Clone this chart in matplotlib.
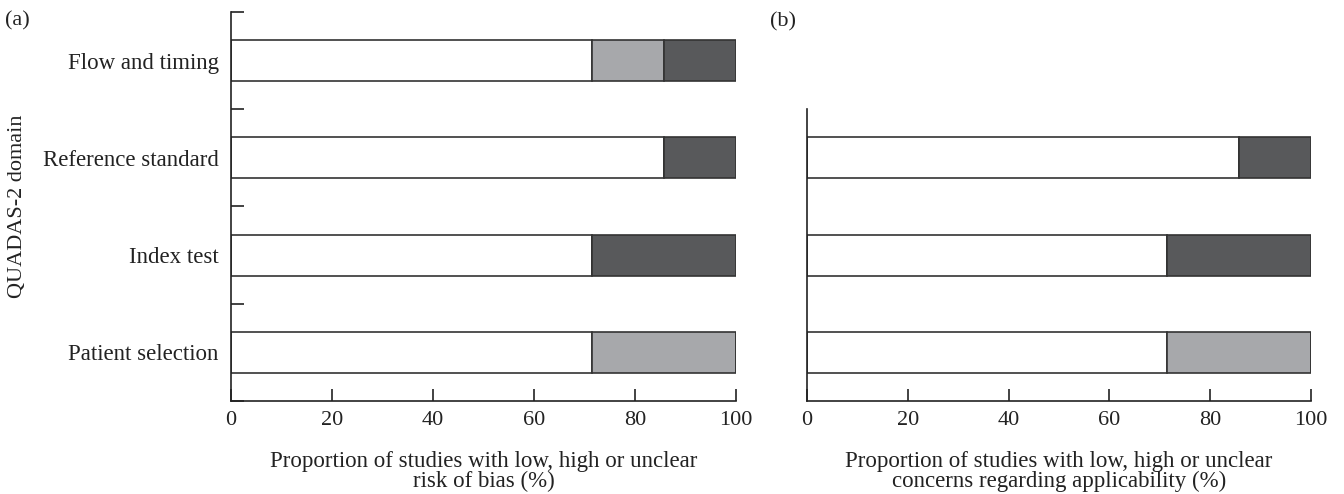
import matplotlib
matplotlib.use('Agg')
import matplotlib.pyplot as plt
import numpy as np

plt.rcParams['font.family'] = ['Liberation Serif', 'DejaVu Serif']

# QUADAS-2 domains, bottom to top
domains = ['Patient selection', 'Index test', 'Reference standard', 'Flow and timing']

# risk of bias (%)
bias_low = [71.4, 71.4, 85.7, 71.4]
bias_high = [0.0, 28.6, 14.3, 14.3]
bias_unclear = [28.6, 0.0, 0.0, 14.3]

# applicability concerns (%) - first three domains only
app_domains = domains[:3]
app_low = [71.4, 71.4, 85.7]
app_high = [0.0, 28.6, 14.3]
app_unclear = [28.6, 0.0, 0.0]

col_low = 'white'
col_unclear = '#a7a8ab'
col_high = '#58595b'
edge = '#333333'
txt = '#222222'
bar_h = 0.42


def stacked(ax, n, low, unclear, high):
    y = np.arange(n)
    low = np.array(low)
    unclear = np.array(unclear)
    high = np.array(high)
    ax.barh(y, low, height=bar_h, color=col_low, edgecolor=edge, linewidth=1.2)
    ax.barh(y, unclear, left=low, height=bar_h, color=col_unclear, edgecolor=edge, linewidth=1.2)
    ax.barh(y, high, left=low + unclear, height=bar_h, color=col_high, edgecolor=edge, linewidth=1.2)


fig = plt.figure(figsize=(13.44, 4.94), dpi=100)
ax1 = fig.add_axes([0.1719, 0.1883, 0.3757, 0.7874])
ax2 = fig.add_axes([0.6004, 0.1883, 0.3750, 0.7874])

stacked(ax1, len(domains), bias_low, bias_unclear, bias_high)
stacked(ax2, len(app_domains), app_low, app_unclear, app_high)

for ax in (ax1, ax2):
    ax.set_xlim(0, 100)
    ax.set_ylim(-0.5, 3.5)
    ax.spines['top'].set_visible(False)
    ax.spines['right'].set_visible(False)
    for s in ('left', 'bottom'):
        ax.spines[s].set_linewidth(1.2)
        ax.spines[s].set_color(txt)
    ax.set_xticks([0, 20, 40, 60, 80, 100])
    ax.tick_params(axis='x', direction='in', length=9, width=1.2, labelsize=16, pad=7, colors=txt)

ax1.set_yticks(np.arange(len(domains)))
ax1.set_yticklabels(domains)
ax1.set_yticks(np.arange(-0.5, 4.0, 1.0), minor=True)
ax1.tick_params(axis='y', which='major', length=0, labelsize=16.5, pad=9, colors=txt)
ax1.tick_params(axis='y', which='minor', direction='in', length=9, width=1.2, color=txt)
ax1.set_ylabel('QUADAS-2 domain', fontsize=16, labelpad=11, color=txt)
ax1.set_xlabel('Proportion of studies with low, high or unclear\nrisk of bias (%)',
               fontsize=16.5, labelpad=15, color=txt, linespacing=0.95)

ax2.spines['left'].set_bounds(-0.5, 2.5)
ax2.set_yticks([])
ax2.set_xlabel('Proportion of studies with low, high or unclear\nconcerns regarding applicability (%)',
               fontsize=16.5, labelpad=15, color=txt, linespacing=0.95)

fig.text(0.004, 0.958, '(a)', fontsize=16, color=txt, va='center')
fig.text(0.573, 0.955, '(b)', fontsize=16, color=txt, va='center')

fig.savefig('out.png', dpi=100)
